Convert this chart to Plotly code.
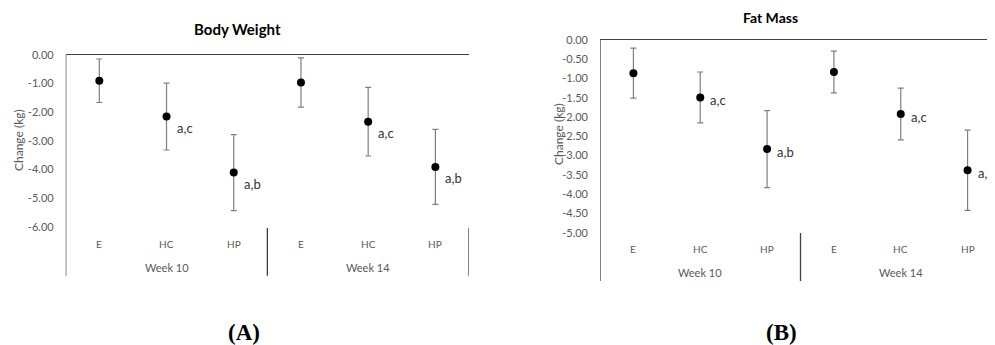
import plotly.graph_objects as go

W, H = 995, 345
OFF = 8  # page body margin in the browser

groups = ["E", "HC", "HP", "E", "HC", "HP"]
weeks = ["Week 10", "Week 14"]

bw_mean = [-0.90, -2.15, -4.11, -0.96, -2.33, -3.91]
bw_err = [0.76, 1.17, 1.33, 0.86, 1.20, 1.31]
bw_labels = ["", "a,c", "a,b", "", "a,c", "a,b"]

fm_mean = [-0.86, -1.49, -2.83, -0.83, -1.92, -3.38]
fm_err = [0.65, 0.66, 1.00, 0.54, 0.67, 1.04]
fm_labels = ["", "a,c", "a,b", "", "a,c", "a,b"]

bw_ticks = [0, -1, -2, -3, -4, -5, -6]
bw_ticktext = ["0.00", "-1.00", "-2.00", "-3.00", "-4.00", "-5.00", "-6.00"]
fm_ticks = [0, -0.5, -1, -1.5, -2, -2.5, -3, -3.5, -4, -4.5, -5]
fm_ticktext = ["0.00", "-0.50", "-1.00", "-1.50", "-2.00", "-2.50", "-3.00",
               "-3.50", "-4.00", "-4.50", "-5.00"]


def px(x):
    return (x - OFF) / W


def py(y):
    return 1 - (y - OFF) / H


FONT = "Lato"
GRAY = "#595959"
LINE = "#404040"

xpos = [i + 0.5 for i in range(len(groups))]

fig = go.Figure()
for (mean, err, xa, ya) in [(bw_mean, bw_err, "x", "y"), (fm_mean, fm_err, "x2", "y2")]:
    fig.add_trace(go.Scatter(
        x=xpos, y=mean, mode="markers", xaxis=xa, yaxis=ya,
        marker=dict(color="black", size=8),
        error_y=dict(type="data", array=err, visible=True, color="#7f7f7f",
                     thickness=1.2, width=3),
        showlegend=False, hoverinfo="skip"))

panels = [
    dict(xa="x", ya="y", x0=65.7, x1=469, ytop=55, ybot=226.7, yr=[-6, 0],
         tv=bw_ticks, tt=bw_ticktext, sep_top=228, bot=275.7, cat_y=244, week_y=267.5,
         title="Body Weight", tx=237, ty=29, ytx=18, yty=140,
         mean=bw_mean, labels=bw_labels, yshift=-11, cap="(A)", capx=244),
    dict(xa="x2", ya="y2", x0=600, x1=1001, ytop=40, ybot=232.7, yr=[-5, 0],
         tv=fm_ticks, tt=fm_ticktext, sep_top=233, bot=281, cat_y=248.7, week_y=272.7,
         title="Fat Mass", tx=770.5, ty=None, ytx=558, yty=134,
         mean=fm_mean, labels=fm_labels, yshift=-3, cap="(B)", capx=781.5),
]

layout = dict(template="none", width=W, height=H, margin=dict(l=0, r=0, t=0, b=0, pad=0),
              paper_bgcolor="white", plot_bgcolor="white", showlegend=False)
shapes = []
annotations = []


def ann(**kw):
    base = dict(showarrow=False, xanchor="center", yanchor="middle")
    base.update(kw)
    annotations.append(base)


for i, p in enumerate(panels):
    sx = "" if i == 0 else "2"
    layout["xaxis" + sx] = dict(domain=[px(p["x0"]), px(p["x1"])], range=[0, 6],
                                showgrid=False, zeroline=False, showticklabels=False,
                                showline=True, linecolor=LINE, linewidth=1.3, side="top",
                                ticks="", anchor=p["ya"], fixedrange=True, automargin=False)
    layout["yaxis" + sx] = dict(domain=[py(p["ybot"]), py(p["ytop"])], range=p["yr"],
                                showgrid=False, zeroline=False, showline=False,
                                tickmode="array", tickvals=p["tv"], ticktext=p["tt"],
                                ticks="", ticklabelstandoff=11, automargin=False,
                                tickfont=dict(family=FONT, size=11, color=GRAY),
                                anchor=p["xa"], fixedrange=True)
    shapes.append(dict(type="line", xref=p["xa"], yref="paper", x0=0, x1=0,
                       y0=py(p["ytop"]), y1=py(p["bot"]), line=dict(color=LINE, width=1.3)))
    for sx_ in [3, 6]:
        shapes.append(dict(type="line", xref=p["xa"], yref="paper", x0=sx_, x1=sx_,
                           y0=py(p["sep_top"]), y1=py(p["bot"]),
                           line=dict(color=LINE, width=1.3)))
    for k, g in enumerate(groups):
        ann(text=g, xref=p["xa"], yref="paper", x=xpos[k], y=py(p["cat_y"]),
            font=dict(family=FONT, size=10, color=GRAY))
    for k, wk in enumerate(weeks):
        ann(text=wk, xref=p["xa"], yref="paper", x=1.5 + 3 * k, y=py(p["week_y"]),
            font=dict(family=FONT, size=11, color=GRAY))
    for k, lab in enumerate(p["labels"]):
        if lab:
            ann(text=lab, xref=p["xa"], yref=p["ya"], x=xpos[k], y=p["mean"][k],
                xanchor="left", xshift=8, yshift=p["yshift"],
                font=dict(family=FONT, size=13, color="#333333"))
    if p["ty"] is None:
        ann(text="<b>" + p["title"] + "</b>", xref="paper", yref="paper",
            x=px(p["tx"]), y=1, yanchor="top", borderpad=0,
            font=dict(family=FONT, size=14, color="black"))
    else:
        ann(text="<b>" + p["title"] + "</b>", xref="paper", yref="paper",
            x=px(p["tx"]), y=py(p["ty"]), font=dict(family=FONT, size=15, color="black"))
    ann(text="Change (kg)", xref="paper", yref="paper", textangle=-90,
        x=px(p["ytx"]), y=py(p["yty"]), font=dict(family=FONT, size=12, color=GRAY))
    ann(text="<b>" + p["cap"] + "</b>", xref="paper", yref="paper",
        x=px(p["capx"]), y=py(332), font=dict(family="Liberation Serif", size=23, color="black"))

layout["shapes"] = shapes
layout["annotations"] = annotations
fig.update_layout(**layout)
fig.write_html("out.html")
